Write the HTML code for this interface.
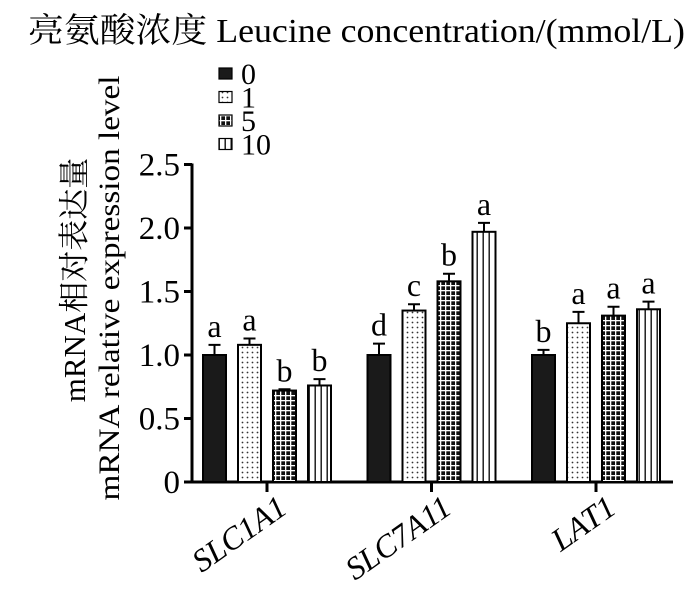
<!DOCTYPE html>
<html><head><meta charset="utf-8"><style>
body{margin:0;background:#fff}
svg text{font-family:"Liberation Serif","Noto Serif CJK SC",serif;fill:#000}
</style></head><body>
<svg width="700" height="601" viewBox="0 0 700 601">
<defs>
<pattern id="dots" width="5" height="5" patternUnits="userSpaceOnUse"><rect width="5" height="5" fill="#fff"/><circle cx="2.5" cy="2.5" r="0.9" fill="#333"/></pattern>
<pattern id="grid" width="5" height="5" patternUnits="userSpaceOnUse"><rect width="5" height="5" fill="#111"/><rect x="0" y="0" width="1.3" height="5" fill="#fff"/><rect x="0" y="0" width="5" height="1.3" fill="#fff"/></pattern>
<pattern id="vstripe" width="6" height="5" patternUnits="userSpaceOnUse"><rect width="6" height="5" fill="#fff"/><rect x="2.5" width="1.4" height="5" fill="#111"/></pattern>
</defs>
<text x="28" y="42" font-size="34" textLength="657" lengthAdjust="spacingAndGlyphs">亮氨酸浓度  Leucine concentration/(mmol/L)</text>
<g id="legend"></g>
<text transform="translate(85,280) rotate(-90)" text-anchor="middle" font-size="31">mRNA相对表达量</text>
<text transform="translate(119,288) rotate(-90)" text-anchor="middle" font-size="30" textLength="425" lengthAdjust="spacingAndGlyphs">mRNA relative expression level</text>
<g id="axes"></g>
<g id="bars"></g>
</svg>
<script>
const categories=["SLC1A1","SLC7A11","LAT1"];
const seriesNames=["0","1","5","10"];
const v0=[1.0,1.0,1.0];
const v1=[1.08,1.35,1.25];
const v5=[0.72,1.58,1.31];
const v10=[0.76,1.97,1.36];
const e0=[0.08,0.09,0.04];
const e1=[0.05,0.05,0.09];
const e5=[0.01,0.06,0.07];
const e10=[0.05,0.07,0.06];
const sig0=["a","d","b"];
const sig1=["a","c","a"];
const sig5=["b","b","a"];
const sig10=["b","a","a"];
const yTicks=[0,0.5,1.0,1.5,2.0,2.5];
const yTickLabels=["0","0.5","1.0","1.5","2.0","2.5"];
const NS="http://www.w3.org/2000/svg";
const svg=document.querySelector("svg");
const X0=192,Y0=482,PXU=127;
const y=v=>Y0-v*PXU;
const gx=i=>267+i*164.5;
const offs=[-52.5,-17.5,17.5,52.5],BW=23;
const fills=["#1a1a1a","url(#dots)","url(#grid)","url(#vstripe)"];
const vals=[v0,v1,v5,v10],errs=[e0,e1,e5,e10],sigs=[sig0,sig1,sig5,sig10];
function mk(t,a,p){const e=document.createElementNS(NS,t);for(const k in a)e.setAttribute(k,a[k]);(p||svg).appendChild(e);return e;}
const axes=document.getElementById("axes"),bars=document.getElementById("bars"),leg=document.getElementById("legend");
let ya=mk("line",{x1:X0,y1:y(2.5)-1,x2:X0,y2:Y0+1.5,stroke:"#000","stroke-width":3},axes);


let xa=mk("line",{x1:X0-1.5,y1:Y0,x2:673,y2:Y0,stroke:"#000","stroke-width":3},axes);


yTicks.forEach((t,i)=>{
 const tk=mk("line",{x1:X0-8,y1:y(t),x2:X0,y2:y(t),stroke:"#000","stroke-width":3},axes);
 
 
 const tl=mk("text",{x:X0-12,y:y(t)+11,"text-anchor":"end","font-size":"33"},axes);
 tl.textContent=yTickLabels[i];
 
 
});
categories.forEach((c,i)=>{
 const tk=mk("line",{x1:gx(i),y1:Y0,x2:gx(i),y2:Y0+10,stroke:"#000","stroke-width":3},axes);
 
 
 const tl=mk("text",{transform:`translate(${gx(i)+22},${Y0+30}) rotate(-35)`,"text-anchor":"end","font-size":"32","font-style":"italic"},axes);
 tl.textContent=c;
 
 
 for(let s=0;s<4;s++){
  const v=vals[s][i],e=errs[s][i],cx=gx(i)+offs[s];
  const r=mk("rect",{x:cx-BW/2,y:y(v),width:BW,height:Y0-y(v),fill:fills[s],stroke:"#000","stroke-width":2},bars);
  
  
  const eb=mk("path",{d:`M${cx},${y(v)} V${y(v+e)} M${cx-6},${y(v+e)} H${cx+6}`,stroke:"#000","stroke-width":2,fill:"none"},bars);
  
  
  const st=mk("text",{x:cx,y:y(v+e)-8,"text-anchor":"middle","font-size":"32"},bars);
  st.textContent=sigs[s][i];
  
  
 }
});
seriesNames.forEach((n,s)=>{
 const yy=74+s*23.5;
 const sw=mk("rect",{x:219,y:yy-6,width:13,height:11,fill:fills[s],stroke:"#000","stroke-width":1.2},leg);
 
 
 const t=mk("text",{x:241,y:yy+10,"font-size":"30"},leg);
 t.textContent=n;
 
 
});
</script>
</body></html>
